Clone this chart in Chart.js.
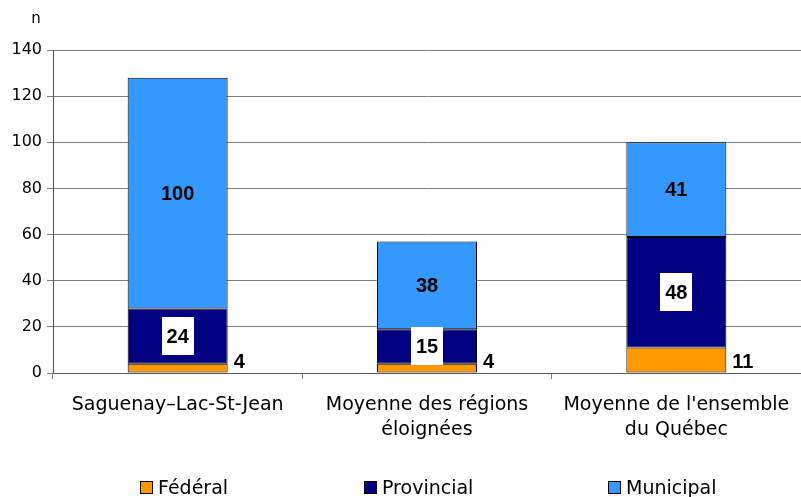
<!DOCTYPE html>
<html>
<head>
<meta charset="utf-8">
<script src="https://cdn.jsdelivr.net/npm/chart.js@4/dist/chart.umd.min.js"></script>
<style>
  html, body { margin: 0; padding: 0; background: #fff; }
  #wrap { position: relative; width: 801px; height: 497px; }
  #legend { position: absolute; left: 0; top: 0; width: 801px; height: 497px; pointer-events: none;
    font-family: "DejaVu Sans", sans-serif; font-size: 19px; color: #000; }
  .item { position: absolute; top: 476px; display: flex; align-items: center; white-space: nowrap; }
  .box { width: 11px; height: 11px; border: 1px solid #000; margin-right: 5px; }
</style>
</head>
<body>
<div id="wrap">
  <canvas id="c" width="801" height="497"></canvas>
  <div id="legend"></div>
</div>
<script>
// categories and series
const categories = [
  'Saguenay\u2013Lac-St-Jean',
  ['Moyenne des r\u00e9gions', '\u00e9loign\u00e9es'],
  ["Moyenne de l'ensemble", 'du Qu\u00e9bec'],
];
const federal = [4, 4, 11];
const provincial = [24, 15, 48];
const municipal = [100, 38, 41];

const seriesNames = ['F\u00e9d\u00e9ral', 'Provincial', 'Municipal'];
const seriesColors = ['#FF9900', '#000080', '#3399FF'];
const yTicks = [0, 20, 40, 60, 80, 100, 120, 140];
const axisUnit = 'n';

const LABEL_FONT = 'bold 20px "Liberation Sans", Arial, sans-serif';
const AXIS_FONT_FAMILY = '"DejaVu Sans", sans-serif';

// value labels: municipal centred, provincial centred in a white box, federal to the right
const valueLabels = {
  id: 'valueLabels',
  afterDatasetsDraw(chart) {
    const { ctx } = chart;
    ctx.save();
    ctx.font = LABEL_FONT;
    ctx.fillStyle = '#000';
    chart.data.datasets.forEach((ds, di) => {
      const meta = chart.getDatasetMeta(di);
      meta.data.forEach((bar, i) => {
        const text = String(ds.data[i]);
        const { x, y, base, width } = bar.getProps(['x', 'y', 'base', 'width'], true);
        const mid = (y + base) / 2;
        if (di === 0) {
          ctx.textAlign = 'left';
          ctx.textBaseline = 'alphabetic';
          ctx.fillText(text, x + width / 2 + 6, base - 5);
        } else if (di === 1) {
          const tw = ctx.measureText(text).width;
          ctx.fillStyle = '#fff';
          ctx.fillRect(Math.round(x - tw / 2 - 5), Math.round(mid - 19), Math.round(tw + 10), 38);
          ctx.fillStyle = '#000';
          ctx.textAlign = 'center';
          ctx.textBaseline = 'middle';
          ctx.fillText(text, x, mid + 1);
        } else {
          ctx.textAlign = 'center';
          ctx.textBaseline = 'middle';
          ctx.fillText(text, x, mid + 1);
        }
      });
    });
    ctx.restore();
  },
};

// the little "n" above the value axis
const unitLabel = {
  id: 'unitLabel',
  afterDraw(chart) {
    const { ctx, chartArea } = chart;
    ctx.save();
    ctx.font = '15px ' + AXIS_FONT_FAMILY;
    ctx.fillStyle = '#000';
    ctx.textAlign = 'center';
    ctx.textBaseline = 'middle';
    ctx.fillText(axisUnit, chartArea.left - 17, chartArea.top - 31);
    ctx.restore();
  },
};

const datasets = [federal, provincial, municipal].map((data, k) => ({
  label: seriesNames[k],
  data,
  backgroundColor: seriesColors[k],
  borderColor: '#000',
  borderWidth: 1,
  borderSkipped: false,
  categoryPercentage: 1,
  barPercentage: 0.401,
}));

new Chart(document.getElementById('c'), {
  type: 'bar',
  data: { labels: categories, datasets },
  options: {
    responsive: false,
    animation: false,
    devicePixelRatio: 1,
    layout: { padding: { top: 50, right: 0, left: 0, bottom: 0 } },
    plugins: {
      legend: { display: false },
      tooltip: { enabled: false },
    },
    scales: {
      x: {
        stacked: true,
        grid: { drawOnChartArea: false, tickLength: 6, color: '#808080' },
        border: { color: '#555', width: 1 },
        ticks: {
          color: '#000',
          padding: 14,
          maxRotation: 0,
          autoSkip: false,
          font: { family: AXIS_FONT_FAMILY, size: 19, lineHeight: 1.3 },
        },
        afterFit(scale) {
          scale.height = 124;
          scale.paddingLeft = 0;
          scale.paddingRight = 0;
        },
      },
      y: {
        stacked: true,
        min: 0,
        max: 140,
        afterBuildTicks(scale) {
          scale.ticks = yTicks.map((v) => ({ value: v }));
        },
        grid: { color: '#808080', tickLength: 6 },
        border: { color: '#555', width: 1 },
        ticks: {
          color: '#000',
          padding: 5,
          font: { family: AXIS_FONT_FAMILY, size: 16 },
        },
        afterFit(scale) {
          scale.width = 53;
        },
      },
    },
  },
  plugins: [valueLabels, unitLabel],
});

// legend row under the chart
const legendLeft = [140, 364, 608];
const legend = document.getElementById('legend');
seriesNames.forEach((name, k) => {
  const item = document.createElement('div');
  item.className = 'item';
  item.style.left = legendLeft[k] + 'px';
  const box = document.createElement('span');
  box.className = 'box';
  box.style.background = seriesColors[k];
  const txt = document.createElement('span');
  txt.textContent = name;
  item.appendChild(box);
  item.appendChild(txt);
  legend.appendChild(item);
});
</script>
</body>
</html>
